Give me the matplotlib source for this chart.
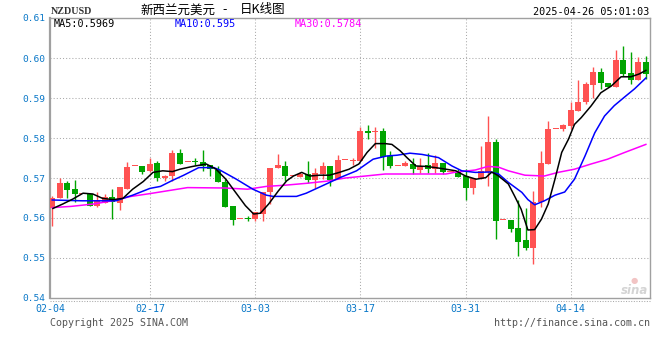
import matplotlib
matplotlib.use('Agg')
import matplotlib.pyplot as plt
import numpy as np
from matplotlib.lines import Line2D

# ---------------- data ----------------
opens = [0.5625, 0.5649, 0.5687, 0.5672, 0.5659, 0.5659, 0.5630, 0.5638, 0.5652, 0.5638,
         0.5672, 0.5729, 0.5729, 0.5717, 0.5737, 0.5700, 0.5705, 0.5762, 0.5740, 0.5741,
         0.5741, 0.5732, 0.5720, 0.5691, 0.5631, 0.5598, 0.5598, 0.5598, 0.5610, 0.5664,
         0.5725, 0.5729, 0.5704, 0.5702, 0.5709, 0.5696, 0.5709, 0.5729, 0.5697, 0.5744,
         0.5743, 0.5743, 0.5817, 0.5815, 0.5818, 0.5755, 0.5731, 0.5730, 0.5735, 0.5720,
         0.5732, 0.5722, 0.5737, 0.5714, 0.5714, 0.5705, 0.5675, 0.5697, 0.5714, 0.5790,
         0.5595, 0.5595, 0.5575, 0.5544, 0.5525, 0.5641, 0.5734, 0.5823, 0.5822, 0.5830,
         0.5867, 0.5890, 0.5932, 0.5966, 0.5938, 0.5927, 0.5994, 0.5962, 0.5945, 0.5991]
highs = [0.5654, 0.5701, 0.5693, 0.5695, 0.5659, 0.5659, 0.5664, 0.5661, 0.5672, 0.5677,
         0.5740, 0.5729, 0.5729, 0.5749, 0.5743, 0.5707, 0.5769, 0.5772, 0.5740, 0.5750,
         0.5769, 0.5732, 0.5730, 0.5697, 0.5631, 0.5598, 0.5604, 0.5614, 0.5664, 0.5724,
         0.5759, 0.5743, 0.5704, 0.5714, 0.5743, 0.5726, 0.5741, 0.5729, 0.5757, 0.5744,
         0.5751, 0.5828, 0.5833, 0.5828, 0.5826, 0.5768, 0.5731, 0.5743, 0.5749, 0.5751,
         0.5762, 0.5757, 0.5737, 0.5714, 0.5722, 0.5722, 0.5701, 0.5780, 0.5855, 0.5797,
         0.5595, 0.5595, 0.5646, 0.5625, 0.5668, 0.5768, 0.5842, 0.5823, 0.5834, 0.5891,
         0.5946, 0.5940, 0.5978, 0.5976, 0.5938, 0.6021, 0.6031, 0.6016, 0.6003, 0.6004]
lows = [0.5581, 0.5649, 0.5651, 0.5641, 0.5659, 0.5630, 0.5627, 0.5638, 0.5598, 0.5621,
        0.5672, 0.5729, 0.5710, 0.5714, 0.5693, 0.5693, 0.5693, 0.5735, 0.5740, 0.5733,
        0.5718, 0.5706, 0.5691, 0.5628, 0.5583, 0.5598, 0.5593, 0.5593, 0.5593, 0.5635,
        0.5725, 0.5693, 0.5704, 0.5702, 0.5687, 0.5676, 0.5697, 0.5681, 0.5697, 0.5744,
        0.5732, 0.5743, 0.5797, 0.5774, 0.5720, 0.5724, 0.5731, 0.5729, 0.5710, 0.5712,
        0.5712, 0.5712, 0.5710, 0.5714, 0.5702, 0.5646, 0.5660, 0.5697, 0.5680, 0.5548,
        0.5595, 0.5566, 0.5504, 0.5519, 0.5484, 0.5627, 0.5734, 0.5823, 0.5818, 0.5823,
        0.5867, 0.5886, 0.5900, 0.5923, 0.5927, 0.5927, 0.5955, 0.5935, 0.5945, 0.5948]
closes = [0.5649, 0.5687, 0.5671, 0.5659, 0.5659, 0.5631, 0.5642, 0.5652, 0.5639, 0.5677,
          0.5727, 0.5729, 0.5714, 0.5734, 0.5700, 0.5705, 0.5763, 0.5735, 0.5740, 0.5739,
          0.5730, 0.5722, 0.5691, 0.5628, 0.5596, 0.5598, 0.5597, 0.5614, 0.5664, 0.5724,
          0.5732, 0.5705, 0.5704, 0.5709, 0.5696, 0.5712, 0.5730, 0.5696, 0.5744, 0.5744,
          0.5745, 0.5817, 0.5812, 0.5818, 0.5753, 0.5730, 0.5731, 0.5737, 0.5722, 0.5731,
          0.5722, 0.5737, 0.5714, 0.5714, 0.5702, 0.5675, 0.5701, 0.5718, 0.5790, 0.5593,
          0.5595, 0.5573, 0.5541, 0.5526, 0.5641, 0.5737, 0.5823, 0.5823, 0.5832, 0.5869,
          0.5891, 0.5934, 0.5964, 0.5937, 0.5927, 0.5994, 0.5960, 0.5945, 0.5991, 0.5960]

# moving-average lines (day index, value)
ma5_day = [0.1, 1.4, 2.7, 4.1, 5.4, 6.7, 8.1, 9.4, 10.7, 12.1, 13.4, 14.7, 16.0, 17.0, 18.7,
           20.5, 21.8, 23.1, 24.4, 25.7, 26.8, 27.7, 28.8, 30.1, 31.2, 32.1, 33.2, 34.3, 35.6,
           36.9, 38.2, 39.5, 40.8, 41.9, 43.0, 44.3, 45.2, 46.3, 47.2, 48.4, 49.7, 51.0, 52.4,
           53.7, 55.0, 56.4, 57.7, 58.5, 59.4, 60.7, 61.5, 62.4, 63.3, 64.2, 65.1, 66.0, 66.9,
           67.8, 68.7, 69.5, 70.4, 71.7, 73.0, 74.4, 75.7, 77.0, 78.1, 79.0]
ma5_val = [0.5624, 0.5635, 0.5647, 0.5662, 0.5660, 0.5649, 0.5646, 0.5649, 0.5672, 0.5691,
           0.5714, 0.5718, 0.5716, 0.5722, 0.5729, 0.5735, 0.5722, 0.5697, 0.5664, 0.5631,
           0.5610, 0.5612, 0.5635, 0.5668, 0.5693, 0.5705, 0.5714, 0.5705, 0.5707, 0.5707,
           0.5714, 0.5722, 0.5735, 0.5764, 0.5786, 0.5786, 0.5784, 0.5768, 0.5751, 0.5730,
           0.5729, 0.5726, 0.5722, 0.5718, 0.5705, 0.5697, 0.5701, 0.5715, 0.5705, 0.5685,
           0.5656, 0.5622, 0.5570, 0.5571, 0.5597, 0.5635, 0.5697, 0.5764, 0.5797, 0.5834,
           0.5851, 0.5880, 0.5913, 0.5930, 0.5953, 0.5953, 0.5960, 0.5969]
ma10_day = [0.0, 4.0, 8.5, 9.4, 10.7, 13.0, 14.4, 16.0, 17.5, 19.5, 21.5, 22.3, 24.5, 26.7,
            28.5, 29.4, 32.5, 33.8, 36.0, 38.3, 40.5, 42.7, 44.5, 45.9, 47.6, 49.2, 51.4,
            53.2, 54.5, 56.3, 58.3, 59.4, 60.7, 62.5, 63.3, 64.2, 65.5, 66.9, 68.2, 69.5,
            70.9, 72.2, 73.5, 74.8, 76.2, 77.5, 79.0]
ma10_val = [0.5645, 0.5643, 0.5643, 0.5649, 0.5657, 0.5674, 0.5679, 0.5694, 0.5707, 0.5726,
            0.5726, 0.5720, 0.5697, 0.5672, 0.5657, 0.5654, 0.5654, 0.5662, 0.5681, 0.5701,
            0.5718, 0.5747, 0.5755, 0.5757, 0.5762, 0.5759, 0.5751, 0.5730, 0.5718, 0.5714,
            0.5715, 0.5710, 0.5689, 0.5664, 0.5646, 0.5633, 0.5643, 0.5657, 0.5665, 0.5697,
            0.5755, 0.5813, 0.5855, 0.5881, 0.5903, 0.5923, 0.5950]
ma30_day = [0.0, 2.5, 5.5, 8.0, 10.5, 13.0, 16.0, 18.0, 23.0, 26.0, 28.5, 31.0, 34.0, 36.5,
            39.0, 41.7, 44.3, 47.0, 52.4, 53.5, 56.3, 58.0, 59.4, 60.7, 62.9, 65.5, 67.3,
            69.5, 71.7, 73.9, 76.2, 79.0]
ma30_val = [0.5626, 0.5629, 0.5635, 0.5643, 0.5654, 0.5661, 0.5670, 0.5676, 0.5675, 0.5672,
            0.5679, 0.5682, 0.5687, 0.5692, 0.5700, 0.5705, 0.5710, 0.5710, 0.5710, 0.5714,
            0.5720, 0.5729, 0.5727, 0.5718, 0.5707, 0.5705, 0.5714, 0.5722, 0.5735, 0.5747,
            0.5764, 0.5784]

date_labels = ['02-04', '02-17', '03-03', '03-17', '03-31', '04-14']
date_days = [-0.3, 13, 27, 41, 55, 69]
price_ticks = [0.54, 0.55, 0.56, 0.57, 0.58, 0.59, 0.60, 0.61]
price_labels = ['0.54', '0.55', '0.56', '0.57', '0.58', '0.59', '0.60', '0.61']

title_left = '新西兰元美元'
title_right = '日K线图'
symbol = 'NZDUSD'
stamp = '2025-04-26 05:01:03'
ma_texts = ['MA5:0.5969', 'MA10:0.595', 'MA30:0.5784']

# ---------------- drawing ----------------
W, H = 660, 360
fig = plt.figure(figsize=(W / 100, H / 100), dpi=100)
fig.patch.set_facecolor('white')
ax = fig.add_axes([50 / W, 1 - 298 / H, 600 / W, 280 / H])

RED = '#ff5252'
GREEN = '#00a400'
BLUE_TXT = '#0a78c8'
MONO = 'DejaVu Sans Mono'

days = np.arange(len(closes))
o = np.array(opens); c = np.array(closes)
hi = np.array(highs); lo = np.array(lows)
up = c >= o
cols = [RED if u else GREEN for u in up]
bottoms = np.minimum(o, c)
heights = np.maximum(np.abs(c - o), 0.00025)

ax.vlines(days, lo, hi, colors=cols, linewidth=1.0, zorder=3)
ax.bar(days, heights, bottom=bottoms, width=0.8, color=cols, linewidth=0, zorder=4)

ax.plot(ma30_day, ma30_val, color='#ff00ff', lw=1.1, zorder=5)
ax.plot(ma10_day, ma10_val, color='#0000ff', lw=1.1, zorder=6)
ax.plot(ma5_day, ma5_val, color='black', lw=1.1, zorder=7)

ax.set_xlim(-0.27, 79.55)
ax.set_ylim(0.54, 0.61)

ax.set_yticks(price_ticks)
ax.set_yticklabels(price_labels, family=MONO, fontsize=6.8, color=BLUE_TXT)
ax.set_xticks(date_days)
ax.set_xticklabels(date_labels, family=MONO, fontsize=7.2, color=BLUE_TXT)
ax.tick_params(axis='both', length=0)
ax.tick_params(axis='y', pad=3.5)
ax.tick_params(axis='x', pad=4)

for p in price_ticks[1:-1]:
    ax.axhline(p, color='#aaaaaa', lw=0.75, linestyle=(0, (1, 2)), zorder=1)
for d in date_days[1:]:
    ax.axvline(d, color='#aaaaaa', lw=0.75, linestyle=(0, (1, 2)), zorder=1)

for s in ['top', 'right', 'bottom']:
    ax.spines[s].set_color('#a0a0a0')
    ax.spines[s].set_linewidth(1.0)
ax.spines['left'].set_color('#a0a0a0')
ax.spines['left'].set_linewidth(1.6)

# dotted line under the axis
fig.add_artist(Line2D([50 / W, 650 / W], [1 - 300.5 / H, 1 - 300.5 / H], color='#aaaaaa',
                      lw=0.75, linestyle=(0, (1, 1.5))))

def fx(px):
    return px / W

def fy(py):
    return 1 - py / H

# header
fig.text(fx(51), fy(11.5), symbol, family='Liberation Serif', fontweight='bold',
         fontsize=7.2, color='#333333', va='center', ha='left')
fig.text(fx(140), fy(10), title_left, family=['Noto Sans CJK SC', 'DejaVu Sans'],
         fontsize=9, color='black', va='center', ha='left')
fig.text(fx(224.5), fy(10), '-', family=['Noto Sans CJK SC', 'DejaVu Sans'],
         fontsize=9, color='black', va='center', ha='center')
fig.text(fx(240), fy(10), title_right, family=['Noto Sans CJK SC', 'DejaVu Sans'],
         fontsize=9, color='black', va='center', ha='left')
fig.text(fx(649), fy(12), stamp, family=MONO, fontsize=7.3, color='black',
         va='center', ha='right')

# MA legend inside plot
fig.text(fx(54), fy(23.7), ma_texts[0], family=MONO, fontsize=7.3, color='black',
         va='center', ha='left')
fig.text(fx(175), fy(23.7), ma_texts[1], family=MONO, fontsize=7.3, color='#0000ff',
         va='center', ha='left')
fig.text(fx(295), fy(23.7), ma_texts[2], family=MONO, fontsize=7.3, color='#ff00ff',
         va='center', ha='left')

# footer
fig.text(fx(50), fy(323.5), 'Copyright 2025 SINA.COM', family=MONO, fontsize=7.2,
         color='#555555', va='center', ha='left')
fig.text(fx(650), fy(323.5), 'http://finance.sina.com.cn', family=MONO, fontsize=7.2,
         color='#555555', va='center', ha='right')

# watermark
fig.text(fx(648), fy(291), 'sina', family='DejaVu Sans', fontstyle='italic',
         fontweight='bold', fontsize=8.5, color='#d4d4d4', va='center', ha='right')
fig.text(fx(634), fy(281), '\u25CF', family='DejaVu Sans', fontsize=6,
         color='#f2c4c4', va='center', ha='center')

fig.savefig('out.png', dpi=100, facecolor='white')
